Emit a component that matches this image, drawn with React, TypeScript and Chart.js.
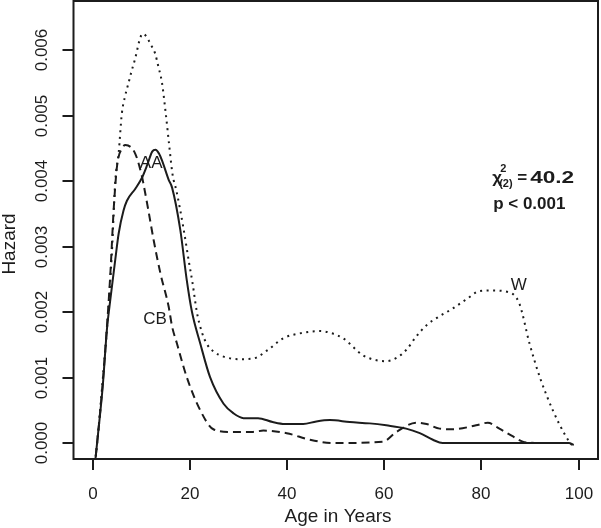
import { useEffect, useRef } from "react";
import { Chart, registerables } from "chart.js";

Chart.register(...registerables);

const INK = "#1c1c1c";
const FONT = '"Liberation Sans", Arial, Helvetica, sans-serif';

// Age (years) and hazard values
const ageAA = [0.3, 1, 2, 2.9, 3.6, 4.6, 5.3, 6.3, 7, 8.7, 10.1, 11.2, 12.2, 12.9, 13.6, 14.2, 15.6, 16.3, 18, 19.3, 20.4, 22.1, 24.1, 26.9, 29, 31, 34, 37, 39.5, 43.3, 46, 48.8, 52.9, 57, 60.4, 64.5, 67.3, 70, 72, 80, 90, 98, 99];
const hazAA = [-0.0004, 0.0001, 0.00085, 0.00175, 0.0022, 0.0028, 0.0032, 0.00355, 0.0037, 0.00388, 0.00405, 0.00425, 0.00445, 0.00448, 0.00442, 0.00432, 0.00402, 0.0039, 0.00325, 0.0025, 0.002, 0.00152, 0.00101, 0.0006, 0.00045, 0.00038, 0.00038, 0.00032, 0.00029, 0.00029, 0.00033, 0.00035, 0.00032, 0.0003, 0.00027, 0.00022, 0.00015, 0.00005, 0.0, 0.0, 0.0, 0.0, -0.00003];

const ageCB = [0.3, 1, 2, 3, 3.6, 4.3, 5, 6, 6.7, 8.7, 10.1, 10.4, 11.4, 12.5, 13.9, 15.6, 16.3, 17.3, 19.3, 22.1, 24.8, 28.2, 33, 35.1, 39.9, 44.7, 49.5, 59.7, 62.5, 66.6, 68.7, 71.4, 74.1, 78.9, 81.3, 83.7, 86.5, 88.5, 91];
const hazCB = [-0.0004, 0.0001, 0.0009, 0.0019, 0.0026, 0.0036, 0.00425, 0.0045, 0.00455, 0.00442, 0.00407, 0.00396, 0.00356, 0.0031, 0.00259, 0.00208, 0.00178, 0.00152, 0.00101, 0.0005, 0.00021, 0.00017, 0.00017, 0.00019, 0.00015, 0.00005, 0.0, 0.00002, 0.00017, 0.00031, 0.00029, 0.00022, 0.00021, 0.00027, 0.00031, 0.00022, 0.0001, 0.00002, 0.0];

const ageW = [0.3, 1, 2, 3, 3.9, 4.6, 5.3, 5.95, 6.6, 7.3, 8, 8.7, 9.6, 10.2, 11, 11.8, 12.8, 13.5, 14.2, 15, 15.7, 16.4, 17.2, 18.6, 19.8, 20.5, 21.4, 22.4, 23.4, 24.8, 26.9, 30, 33, 36, 39.2, 43, 46.7, 49, 51.5, 55.6, 58, 60.4, 62.5, 64.5, 66.5, 68.7, 71, 74, 77, 79.6, 82, 85.8, 87.8, 89.9, 92, 94.7, 97.4, 99.1];
const hazW = [-0.0004, 0.0001, 0.00095, 0.00185, 0.0029, 0.004, 0.00443, 0.00503, 0.00529, 0.00549, 0.00569, 0.00587, 0.00615, 0.00625, 0.00621, 0.0061, 0.00595, 0.00574, 0.00551, 0.00503, 0.00455, 0.0041, 0.00385, 0.0033, 0.00275, 0.00245, 0.002, 0.0017, 0.00152, 0.0014, 0.00132, 0.00128, 0.00129, 0.00142, 0.0016, 0.00168, 0.00171, 0.00168, 0.0016, 0.00134, 0.00127, 0.00125, 0.0013, 0.00142, 0.00162, 0.0018, 0.00192, 0.00205, 0.0022, 0.00232, 0.00233, 0.0023, 0.00213, 0.00152, 0.00101, 0.0005, 0.0001, -0.00008];

const xTicks = [0, 20, 40, 60, 80, 100];
const yTicks = [0, 0.001, 0.002, 0.003, 0.004, 0.005, 0.006];
const yTickLabels = ["0.000", "0.001", "0.002", "0.003", "0.004", "0.005", "0.006"];

const groupLabels = ["AA", "CB", "W"];
const groupLabelAge = [12, 12.8, 87.7];
const groupLabelHaz = [0.0042, 0.00182, 0.00234];

const statAge = 82.2;
const statHaz = [0.00397, 0.00357];

const toPoints = (ages: number[], hz: number[]) => ages.map((a, i) => ({ x: a, y: hz[i] }));

const rAxesPlugin = {
  id: "rAxes",
  afterDraw(chart: any) {
    const { ctx, chartArea: a } = chart;
    const xs = chart.scales.x;
    const ys = chart.scales.y;
    ctx.save();
    ctx.strokeStyle = INK;
    ctx.fillStyle = INK;
    ctx.lineWidth = 2;
    ctx.strokeRect(a.left, a.top, a.right - a.left, a.bottom - a.top);

    // x axis ticks and labels
    ctx.font = `17px ${FONT}`;
    ctx.textAlign = "center";
    ctx.textBaseline = "alphabetic";
    xTicks.forEach((v) => {
      const px = Math.round(xs.getPixelForValue(v));
      ctx.beginPath();
      ctx.moveTo(px, a.bottom);
      ctx.lineTo(px, a.bottom + 11);
      ctx.stroke();
      ctx.fillText(String(v), px, a.bottom + 40);
    });

    // y axis ticks and rotated labels
    yTicks.forEach((v, i) => {
      const py = Math.round(ys.getPixelForValue(v));
      ctx.beginPath();
      ctx.moveTo(a.left, py);
      ctx.lineTo(a.left - 11, py);
      ctx.stroke();
      ctx.save();
      ctx.translate(47, py);
      ctx.rotate(-Math.PI / 2);
      ctx.fillText(yTickLabels[i], 0, 0);
      ctx.restore();
    });

    // axis titles
    ctx.font = `19px ${FONT}`;
    ctx.fillText("Age in Years", 338, a.bottom + 63);
    ctx.save();
    ctx.translate(15, 244);
    ctx.rotate(-Math.PI / 2);
    ctx.fillText("Hazard", 0, 0);
    ctx.restore();

    // group labels
    ctx.font = `17px ${FONT}`;
    groupLabels.forEach((t, i) => {
      ctx.fillText(t, xs.getPixelForValue(groupLabelAge[i]), ys.getPixelForValue(groupLabelHaz[i]));
    });

    // statistic text
    ctx.textAlign = "left";
    const sx = xs.getPixelForValue(statAge);
    const sy1 = ys.getPixelForValue(statHaz[0]);
    const sy2 = ys.getPixelForValue(statHaz[1]);
    ctx.font = `bold 17px ${FONT}`;
    ctx.fillText("\u03c7", sx, sy1);
    ctx.font = `bold 11px ${FONT}`;
    ctx.fillText("2", sx + 8, sy1 - 11);
    ctx.fillText("(2)", sx + 7, sy1 + 4);
    ctx.font = `bold 17px ${FONT}`;
    ctx.fillText("=", sx + 25, sy1);
    const numW = ctx.measureText("40.2").width;
    ctx.save();
    ctx.translate(sx + 38, sy1);
    ctx.scale(44 / numW, 1);
    ctx.fillText("40.2", 0, 0);
    ctx.restore();
    ctx.fillText("p < 0.001", sx + 1, sy2);
    ctx.restore();
  },
};

export default function App() {
  const ref = useRef<HTMLCanvasElement | null>(null);
  useEffect(() => {
    if (!ref.current) return;
    const common = {
      borderColor: INK,
      borderWidth: 2,
      pointRadius: 0,
      fill: false,
      cubicInterpolationMode: "monotone" as const,
      borderCapStyle: "butt" as const,
    };
    const chart = new Chart(ref.current, {
      type: "line",
      data: {
        datasets: [
          { label: "AA", data: toPoints(ageAA, hazAA), ...common },
          { label: "CB", data: toPoints(ageCB, hazCB), ...common, borderDash: [8, 5] },
          { label: "W", data: toPoints(ageW, hazW), ...common, borderDash: [2, 4.5] },
        ],
      },
      options: {
        animation: false,
        responsive: false,
        devicePixelRatio: 1,
        layout: { padding: { left: 73.5, right: 3, top: 1, bottom: 69 } },
        plugins: { legend: { display: false }, tooltip: { enabled: false } },
        events: [],
        scales: {
          x: { type: "linear", min: -4, max: 104, display: false },
          y: { type: "linear", min: -0.000244, max: 0.00675, display: false },
        },
      },
      plugins: [rAxesPlugin],
    });
    return () => chart.destroy();
  }, []);
  return (
    <div style={{ position: "absolute", left: 0, top: 0, width: 601, height: 528, background: "#fff" }}>
      <canvas ref={ref} width={601} height={528} />
    </div>
  );
}
